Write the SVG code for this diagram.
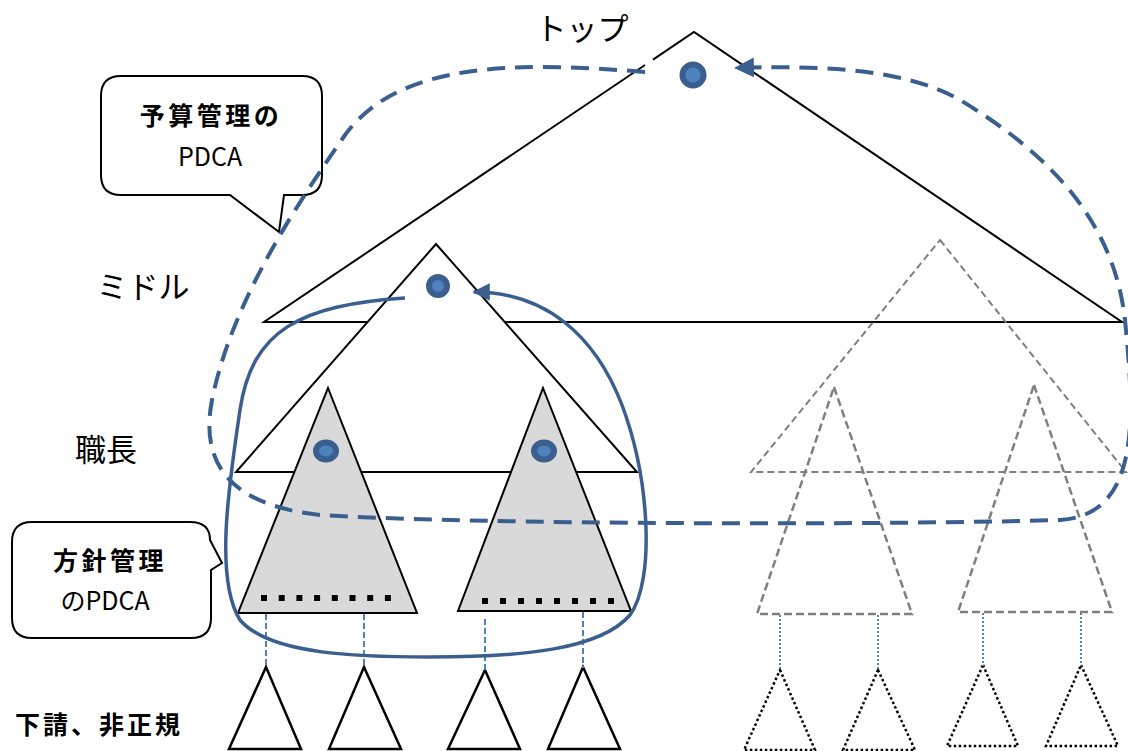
<svg xmlns="http://www.w3.org/2000/svg" width="1128" height="751" viewBox="0 0 1128 751">
<style>
.tri{fill:#fff;stroke:#000;stroke-width:2;stroke-linejoin:miter}
.gtri{fill:#d9d9d9;stroke:#000;stroke-width:2}
.dtri{fill:none;stroke:#7f7f7f;stroke-width:2;stroke-dasharray:7 4}
.dtri2{fill:none;stroke:#7f7f7f;stroke-width:2.5;stroke-dasharray:8 4}
.btri{fill:none;stroke:#000;stroke-width:2.5}
.ptri{fill:none;stroke:#000;stroke-width:2.5;stroke-dasharray:2.5 2.5}
.vdash{stroke:#4f81bd;stroke-width:2;stroke-dasharray:6 3}
.vdot{stroke:#4f81bd;stroke-width:2;stroke-dasharray:2 2}
.dot{fill:#4f81bd;stroke:#3a5f8f;stroke-width:6}
.call{fill:#fff;stroke:#000;stroke-width:2}
.lbl{font-family:"Noto Sans CJK JP","Noto Sans",sans-serif;font-size:31px;fill:#000;text-anchor:middle}
.ct{font-family:"Noto Sans CJK JP","Noto Sans",sans-serif;font-size:25px;fill:#000;text-anchor:middle}
.b{font-weight:bold}
.sq{fill:#000}
</style>
<defs>
<marker id="ah" viewBox="0 0 10 10" refX="9" refY="5" markerWidth="5" markerHeight="5" markerUnits="strokeWidth" orient="auto">
<path d="M0,0 L10,5 L0,10 Z" fill="#3a5f8f"/>
</marker>
</defs>

<g id="top-triangle">
<polygon points="694,32 1122,322 264,322" fill="#fff" stroke="none"/>
<polyline points="645,65 264,322 1122,322 694,32 653,59.6" fill="none" stroke="#000" stroke-width="2"/>
</g>

<g id="right-tree">
<polygon class="dtri" points="940,240 1126,472 751,472"/>
<polygon class="dtri2" points="834,387 912,614 757,614"/>
<polygon class="dtri2" points="1034,385 1112,612 958,612"/>
</g>

<g id="middle-triangle">
<polygon class="tri" points="436,244 637,472 236,472"/>
</g>

<g id="foreman-left">
<polygon class="gtri" points="328,388 417,613 238,613"/>
<g class="sq">
<rect x="261" y="595" width="6" height="6"/><rect x="278.7" y="595" width="6" height="6"/><rect x="296.4" y="595" width="6" height="6"/><rect x="314.1" y="595" width="6" height="6"/><rect x="331.8" y="595" width="6" height="6"/><rect x="349.5" y="595" width="6" height="6"/><rect x="367.2" y="595" width="6" height="6"/><rect x="384.9" y="595" width="6" height="6"/>
</g>
</g>
<g id="foreman-right">
<polygon class="gtri" points="543,388 631,611 458,611"/>
<g class="sq">
<rect x="482" y="598" width="6" height="6"/><rect x="500" y="598" width="6" height="6"/><rect x="518" y="598" width="6" height="6"/><rect x="536" y="598" width="6" height="6"/><rect x="554" y="598" width="6" height="6"/><rect x="572" y="598" width="6" height="6"/><rect x="590" y="598" width="6" height="6"/><rect x="608" y="598" width="6" height="6"/>
</g>
</g>

<g id="subcontract-triangles">
<polygon class="btri" points="266,667 301,749 229,749"/>
<polygon class="btri" points="364,667 401,749 329,749"/>
<polygon class="btri" points="485,670 520,749 448,749"/>
<polygon class="btri" points="583,667 620,749 548,749"/>
<polygon class="ptri" points="780,670 815,750 744,750"/>
<polygon class="ptri" points="878,670 915,750 843,750"/>
<polygon class="ptri" points="983,665 1018,746 947,746"/>
<polygon class="ptri" points="1081,665 1118,746 1046,746"/>
</g>

<g id="connectors">
<line class="vdash" x1="266" y1="614" x2="266" y2="668"/>
<line class="vdash" x1="364" y1="614" x2="364" y2="668"/>
<line class="vdash" x1="485" y1="619" x2="485" y2="672"/>
<line class="vdash" x1="583" y1="612" x2="583" y2="668"/>
<line class="vdot" x1="780" y1="615" x2="780" y2="670"/>
<line class="vdot" x1="878" y1="615" x2="878" y2="670"/>
<line class="vdot" x1="983" y1="613" x2="983" y2="666"/>
<line class="vdot" x1="1081" y1="613" x2="1081" y2="666"/>
</g>

<g id="callout-budget">
<path class="call" d="M121,76 H302 Q322,76 322,96 V175 Q322,195 302,195 H284 L279,232 L230,195 H121 Q101,195 101,175 V96 Q101,76 121,76 Z"/>
<text class="ct b" x="211" y="125" letter-spacing="3.5">予算管理の</text>
<text class="ct" x="210" y="166">PDCA</text>
</g>

<g id="callout-policy">
<path class="call" d="M32,522 H190 Q210,522 210,540 L222,563 L211,570 V618 Q211,638 191,638 H32 Q12,638 12,618 V542 Q12,522 32,522 Z"/>
<text class="ct b" x="110" y="570" letter-spacing="3.5">方針管理</text>
<text class="ct" x="105" y="610">のPDCA</text>
</g>

<g id="loops">
<path d="M645,72 C520,62 400,60 345,135 C300,200 232,300 212,400 C200,462 228,505 320,515 C480,525 900,525 1060,520 C1140,515 1135,420 1125,320 C1115,230 1060,160 960,100 C900,65 800,66 736,68" fill="none" stroke="#3a5f8f" stroke-width="4" stroke-dasharray="18 10" marker-end="url(#ah)"/>
<path d="M405,298 C300,305 252,330 240,410 C228,490 215,580 240,620 C270,655 360,657 430,657 C520,657 600,650 630,615 C655,580 650,480 622,405 C595,335 545,292 474,292" fill="none" stroke="#3a5f8f" stroke-width="3.5" marker-end="url(#ah)"/>
</g>

<g id="markers">
<circle class="dot" cx="693" cy="75" r="10.5"/>
<circle class="dot" cx="438" cy="286" r="9"/>
<ellipse class="dot" cx="326" cy="451" rx="10" ry="8.5"/>
<ellipse class="dot" cx="544" cy="451" rx="10" ry="8.5"/>
</g>

<g id="labels">
<text class="lbl" x="582" y="40">トップ</text>
<text class="lbl" x="143" y="298">ミドル</text>
<text class="lbl" x="106" y="461">職長</text>
<text class="ct b" x="99" y="734" letter-spacing="3">下請、非正規</text>
</g>
</svg>
